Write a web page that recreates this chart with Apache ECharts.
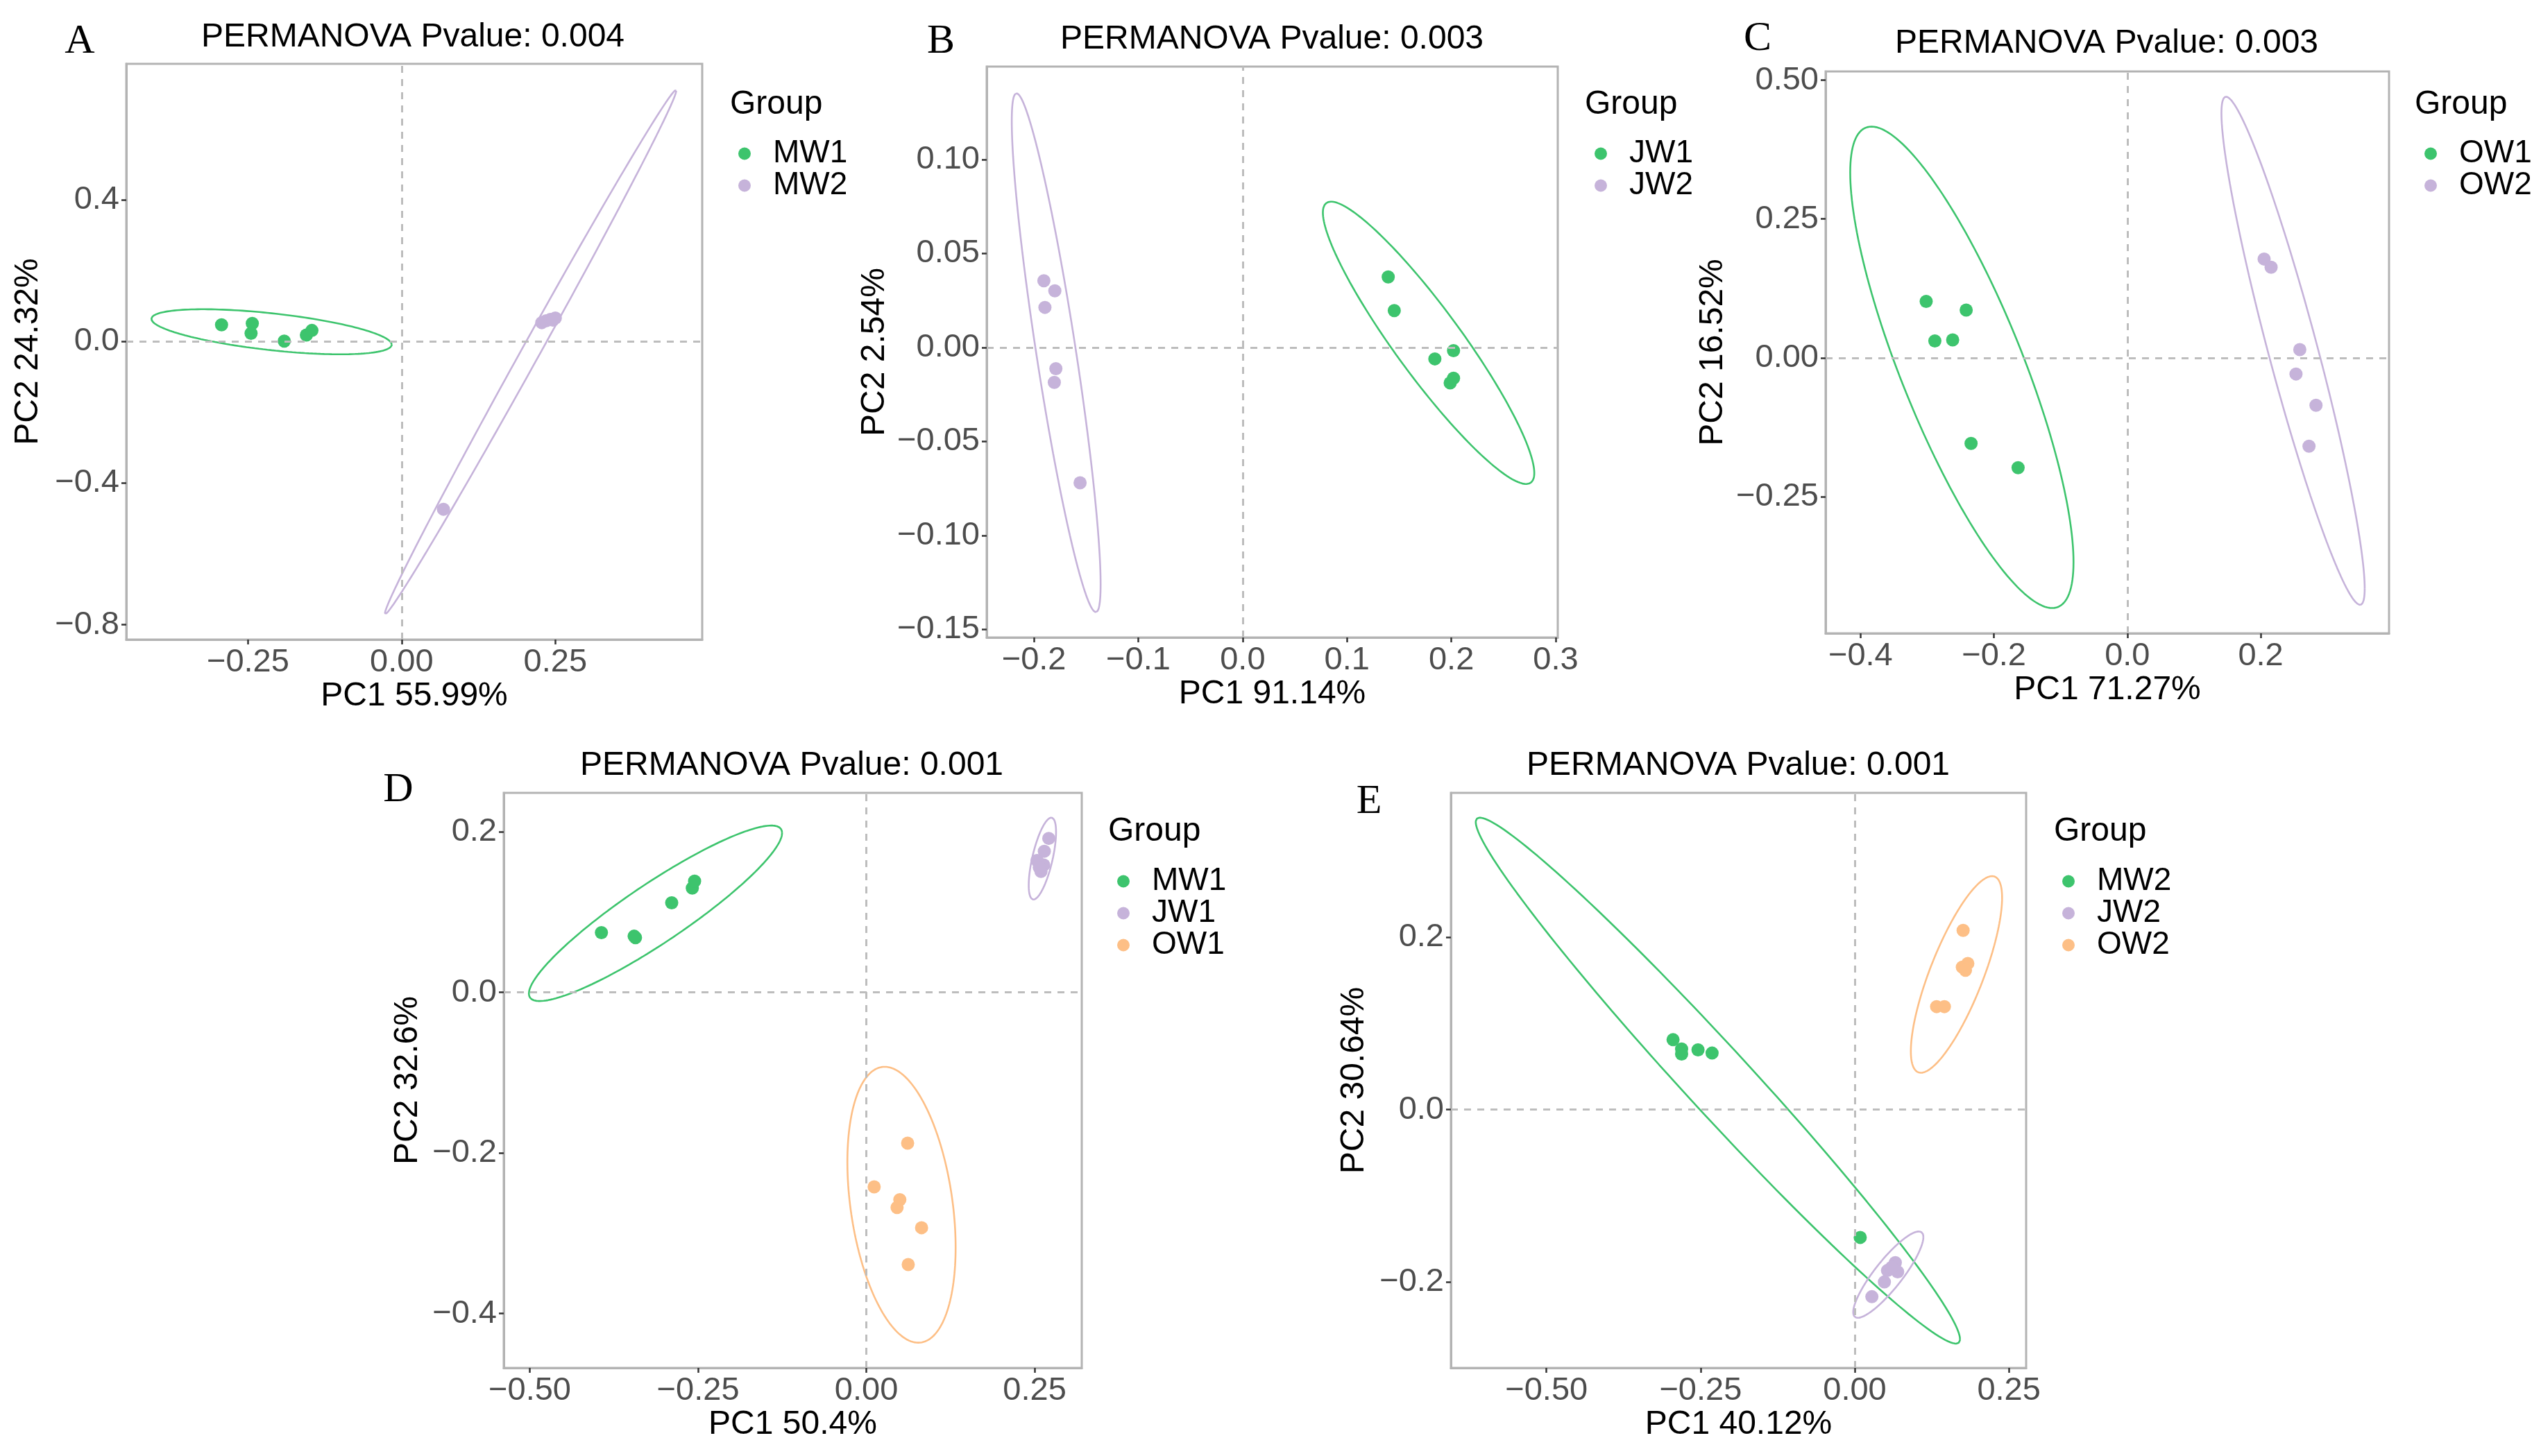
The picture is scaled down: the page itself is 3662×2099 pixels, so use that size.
<!DOCTYPE html>
<html><head><meta charset="utf-8">
<script src="https://cdn.jsdelivr.net/npm/echarts@6/dist/echarts.min.js"></script>
<style>html,body{margin:0;padding:0;background:#fff}#c{width:3662px;height:2099px}</style>
</head><body><div id="c"></div>
<script>
// ---------- DATA ----------
const A_title = 'PERMANOVA Pvalue: 0.004';
const A_xName = 'PC1 55.99%';
const A_yName = 'PC2 24.32%';
const A_xTicks = [-0.25, 0, 0.25];
const A_yTicks = [-0.8, -0.4, 0, 0.4];
const A_MW1 = [[-0.293,0.047],[-0.243,0.051],[-0.245,0.023],[-0.191,0.001],[-0.155,0.018],[-0.146,0.031]];
const A_MW2 = [[0.228,0.053],[0.235,0.058],[0.242,0.062],[0.250,0.066],[0.246,0.060],[0.068,-0.474]];
// ellipse: [centerX, centerY, halfWidth, halfHeight, correlation]
const A_MW1_ell = [-0.2116, 0.0273, 0.1955, 0.0636, -0.571];
const A_MW2_ell = [0.2098, -0.0299, 0.2370, 0.740, 0.9975];

const B_title = 'PERMANOVA Pvalue: 0.003';
const B_xName = 'PC1 91.14%';
const B_yName = 'PC2 2.54%';
const B_xTicks = [-0.2, -0.1, 0, 0.1, 0.2, 0.3];
const B_yTicks = [-0.15, -0.10, -0.05, 0, 0.05, 0.10];
const B_JW1 = [[0.1395,0.0375],[0.1453,0.0196],[0.1842,-0.0061],[0.2021,-0.0017],[0.1989,-0.0189],[0.2021,-0.0164]];
const B_JW2 = [[-0.1905,0.0355],[-0.180,0.0301],[-0.1895,0.0213],[-0.179,-0.0113],[-0.1805,-0.0186],[-0.1558,-0.0720]];
const B_JW1_ell = [0.1782, 0.00245, 0.1013, 0.0751, -0.9225];
const B_JW2_ell = [-0.1787, -0.00282, 0.04258, 0.1380, -0.8925];

const C_title = 'PERMANOVA Pvalue: 0.003';
const C_xName = 'PC1 71.27%';
const C_yName = 'PC2 16.52%';
const C_xTicks = [-0.4, -0.2, 0, 0.2];
const C_yTicks = [-0.25, 0, 0.25, 0.5];
const C_OW1 = [[-0.3016,0.1018],[-0.2416,0.0861],[-0.2886,0.0306],[-0.2619,0.0323],[-0.2343,-0.1540],[-0.1638,-0.1978]];
const C_OW2 = [[0.2051,0.178],[0.2156,0.1631],[0.2586,0.0149],[0.2529,-0.0290],[0.2829,-0.0853],[0.2724,-0.1589]];
const C_OW1_ell = [-0.2481, -0.0170, 0.1674, 0.4334, -0.809];
const C_OW2_ell = [0.2485, 0.0128, 0.1074, 0.4574, -0.935];

const D_title = 'PERMANOVA Pvalue: 0.001';
const D_xName = 'PC1 50.4%';
const D_yName = 'PC2 32.6%';
const D_xTicks = [-0.5, -0.25, 0, 0.25];
const D_yTicks = [-0.4, -0.2, 0, 0.2];
const D_MW1 = [[-0.3936,0.0744],[-0.343,0.0681],[-0.345,0.070],[-0.2892,0.1116],[-0.2586,0.130],[-0.2552,0.1385]];
const D_JW1 = [[0.271,0.1918],[0.2644,0.1758],[0.2536,0.1643],[0.2635,0.1586],[0.2594,0.1506],[0.2569,0.1557]];
const D_OW1 = [[0.0613,-0.1878],[0.0116,-0.2422],[0.0497,-0.2582],[0.0456,-0.2679],[0.0820,-0.2931],[0.0622,-0.3389]];
const D_MW1_ell = [-0.3133, 0.0985, 0.1881, 0.1093, 0.915];
const D_JW1_ell = [0.2615, 0.1666, 0.0203, 0.0510, 0.65];
const D_OW1_ell = [0.0522, -0.2645, 0.0804, 0.1718, -0.31];

const E_title = 'PERMANOVA Pvalue: 0.001';
const E_xName = 'PC1 40.12%';
const E_yName = 'PC2 30.64%';
const E_xTicks = [-0.5, -0.25, 0, 0.25];
const E_yTicks = [-0.2, 0, 0.2];
const E_MW2 = [[-0.2947,0.0811],[-0.2808,0.0704],[-0.2808,0.0645],[-0.2542,0.0693],[-0.2314,0.0656],[0.0089,-0.1483]];
const E_JW2 = [[0.0658,-0.1776],[0.0531,-0.1867],[0.0696,-0.1883],[0.0481,-0.2000],[0.0278,-0.2171],[0.060,-0.183]];
const E_OW2 = [[0.1758,0.208],[0.1745,0.1653],[0.1834,0.1696],[0.1796,0.1616],[0.1328,0.1195],[0.1454,0.1195]];
const E_MW2_ell = [-0.222, 0.0336, 0.3927, 0.3051, -0.983];
const E_JW2_ell = [0.0544, -0.1915, 0.0569, 0.0501, 0.87];
const E_OW2_ell = [0.165, 0.1568, 0.074, 0.1141, 0.78];

// ---------- STYLE / LAYOUT ----------
const GREEN = '#3DC46D', PURPLE = '#C6B3DA', ORANGE = '#FDBF86';
const SANS = '"Liberation Sans", Arial, Helvetica, sans-serif';
const SERIF = '"Liberation Serif", "Times New Roman", serif';

const panels = [
  {letter:'A', title:A_title, xName:A_xName, yName:A_yName, xTicks:A_xTicks, yTicks:A_yTicks, xDec:2, yDec:1,
   groups:[{name:'MW1', color:GREEN, pts:A_MW1, ell:A_MW1_ell},{name:'MW2', color:PURPLE, pts:A_MW2, ell:A_MW2_ell}],
   L:{grid:[182,92,830,830], xr:[-0.448,0.489], yr:[-0.842,0.784], titleXY:[595,54], letterXY:[115,60], groupXY:[1052,151], legendXY:[1068,216], yGap:117}},
  {letter:'B', title:B_title, xName:B_xName, yName:B_yName, xTicks:B_xTicks, yTicks:B_yTicks, xDec:1, yDec:2,
   groups:[{name:'JW1', color:GREEN, pts:B_JW1, ell:B_JW1_ell},{name:'JW2', color:PURPLE, pts:B_JW2, ell:B_JW2_ell}],
   L:{grid:[1422,96,823,823], xr:[-0.2453,0.302], yr:[-0.1543,0.1494], titleXY:[1833,57], letterXY:[1356,60], groupXY:[2284,151], legendXY:[2302,216], yGap:137}},
  {letter:'C', title:C_title, xName:C_xName, yName:C_yName, xTicks:C_xTicks, yTicks:C_yTicks, xDec:1, yDec:2,
   groups:[{name:'OW1', color:GREEN, pts:C_OW1, ell:C_OW1_ell},{name:'OW2', color:PURPLE, pts:C_OW2, ell:C_OW2_ell}],
   L:{grid:[2631,103,812,810], xr:[-0.4524,0.3924], yr:[-0.4959,0.5157], titleXY:[3036,63], letterXY:[2533,56], groupXY:[3480,151], legendXY:[3498,216], yGap:138}},
  {letter:'D', title:D_title, xName:D_xName, yName:D_yName, xTicks:D_xTicks, yTicks:D_yTicks, xDec:2, yDec:1,
   groups:[{name:'MW1', color:GREEN, pts:D_MW1, ell:D_MW1_ell},{name:'JW1', color:PURPLE, pts:D_JW1, ell:D_JW1_ell},{name:'OW1', color:ORANGE, pts:D_OW1, ell:D_OW1_ell}],
   L:{grid:[726,1143,833,829], xr:[-0.5387,0.320], yr:[-0.4677,0.2485], titleXY:[1141,1104], letterXY:[574,1139], groupXY:[1597,1199], legendXY:[1614,1265], yGap:114}},
  {letter:'E', title:E_title, xName:E_xName, yName:E_yName, xTicks:E_xTicks, yTicks:E_yTicks, xDec:2, yDec:1,
   groups:[{name:'MW2', color:GREEN, pts:E_MW2, ell:E_MW2_ell},{name:'JW2', color:PURPLE, pts:E_JW2, ell:E_JW2_ell},{name:'OW2', color:ORANGE, pts:E_OW2, ell:E_OW2_ell}],
   L:{grid:[2091,1143,829,829], xr:[-0.655,0.278], yr:[-0.2997,0.3675], titleXY:[2505,1104], letterXY:[1973,1156], groupXY:[2960,1199], legendXY:[2976,1265], yGap:115}}
];

function fmt(dec){ return v => (v < -1e-9 ? '\u2212' : '') + Math.abs(v).toFixed(dec); }
function ellipsePoints(e){
  const [cx, cy, w, h, r] = e, s = Math.sqrt(Math.max(0, 1 - r*r)), out = [];
  for (let i = 0; i <= 180; i++) {
    const t = i / 180 * 2 * Math.PI;
    out.push([cx + w * Math.cos(t), cy + h * (r * Math.cos(t) + s * Math.sin(t))]);
  }
  return out;
}

const grid = [], xAxis = [], yAxis = [], series = [], legend = [], graphic = [];
panels.forEach((p, i) => {
  const L = p.L;
  grid.push({left:L.grid[0], top:L.grid[1], width:L.grid[2], height:L.grid[3], show:true, borderColor:'#B3B3B3', borderWidth:3, backgroundColor:'#fff'});
  const axisCommon = {
    gridIndex:i, type:'value', splitLine:{show:false},
    axisLine:{show:true, onZero:false, lineStyle:{color:'#B3B3B3', width:3}},
    nameLocation:'middle', nameTextStyle:{fontSize:48, color:'#000', fontFamily:SANS}
  };
  xAxis.push(Object.assign({}, axisCommon, {
    min:L.xr[0], max:L.xr[1], name:p.xName, nameGap:54,
    axisTick:{show:true, length:7, lineStyle:{color:'#333', width:2.5}, customValues:p.xTicks},
    axisLabel:{show:true, customValues:p.xTicks, formatter:fmt(p.xDec), fontSize:47, color:'#4D4D4D', margin:10, fontFamily:SANS}
  }));
  yAxis.push(Object.assign({}, axisCommon, {
    min:L.yr[0], max:L.yr[1], name:p.yName, nameGap:L.yGap,
    axisTick:{show:true, length:7, lineStyle:{color:'#333', width:2.5}, customValues:p.yTicks},
    axisLabel:{show:true, customValues:p.yTicks, formatter:fmt(p.yDec), fontSize:47, color:'#4D4D4D', margin:10, fontFamily:SANS}
  }));
  // zero reference lines
  series.push({type:'line', xAxisIndex:i, yAxisIndex:i, data:[], z:1, silent:true,
    markLine:{silent:true, symbol:['none','none'], label:{show:false}, animation:false,
      lineStyle:{type:[10,9], color:'#BDBDBD', width:3}, emphasis:{disabled:true},
      data:[{xAxis:0},{yAxis:0}]}});
  p.groups.forEach(g => {
    series.push({type:'scatter', name:g.name, xAxisIndex:i, yAxisIndex:i, data:g.pts, symbol:'circle', symbolSize:19,
      itemStyle:{color:g.color, opacity:1}, z:4, emphasis:{disabled:true}});
  });
  p.groups.forEach(g => {
    series.push({type:'line', name:g.name + ' ellipse', xAxisIndex:i, yAxisIndex:i, data:ellipsePoints(g.ell),
      showSymbol:false, symbol:'none', smooth:false, clip:true, z:3, silent:true,
      lineStyle:{color:g.color, width:2.6}, emphasis:{disabled:true}});
  });
  legend.push({orient:'vertical', left:L.legendXY[0] - 9, top:L.legendXY[1] - 22.5, icon:'circle',
    itemWidth:18, itemHeight:18, itemGap:0, selectedMode:false,
    textStyle:{fontSize:46, lineHeight:45, color:'#000', fontFamily:SANS, padding:[0,0,0,27]},
    data:p.groups.map(g => ({name:g.name, itemStyle:{color:g.color}}))});
  graphic.push({type:'text', x:L.titleXY[0], y:L.titleXY[1], silent:true,
    style:{text:p.title, fontSize:48, fontFamily:SANS, fill:'#000', align:'center', verticalAlign:'middle'}});
  graphic.push({type:'text', x:L.letterXY[0], y:L.letterXY[1], silent:true,
    style:{text:p.letter, fontSize:60, fontFamily:SERIF, fill:'#000', align:'center', verticalAlign:'middle'}});
  graphic.push({type:'text', x:L.groupXY[0], y:L.groupXY[1], silent:true,
    style:{text:'Group', fontSize:48, fontFamily:SANS, fill:'#000', align:'left', verticalAlign:'middle'}});
});

const chart = echarts.init(document.getElementById('c'), null, {renderer:'canvas', width:3662, height:2099});
chart.setOption({backgroundColor:'#fff', animation:false, grid, xAxis, yAxis, series, legend, graphic, tooltip:{show:false}});
</script></body></html>
